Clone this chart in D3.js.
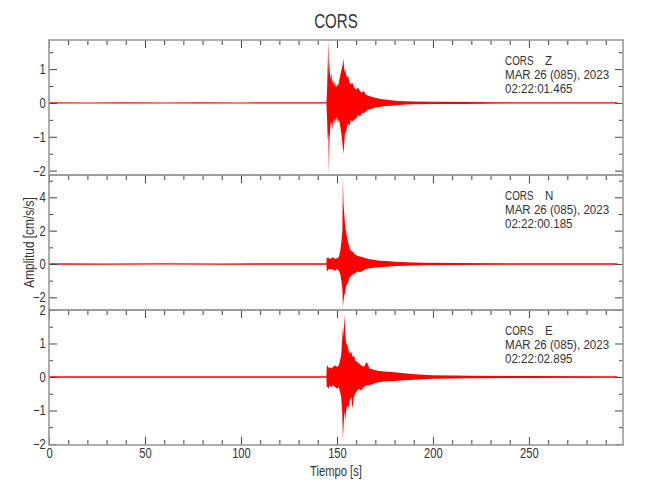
<!DOCTYPE html>
<html>
<head>
<meta charset="utf-8">
<script src="https://cdn.jsdelivr.net/npm/d3@7/dist/d3.min.js"></script>
<style>
  html, body { margin: 0; padding: 0; background: #fff; }
  svg text { font-family: "Liberation Sans", "DejaVu Sans", sans-serif; fill: #333; }
</style>
</head>
<body>
<svg id="chart" width="650" height="500"></svg>
<script>
// ---------------- data (envelopes) ----------------
const title = "CORS";
const xLabel = "Tiempo [s]";
const yLabel = "Amplitud [cm/s/s]";
const xDomain = [0, 299];
const xMajorTicks = [0, 50, 100, 150, 200, 250];
const xMinorTicks = [10, 20, 30, 40, 60, 70, 80, 90, 110, 120, 130, 140, 160, 170, 180, 190, 210, 220, 230, 240, 260, 270, 280, 290];

const stations = ["CORS", "CORS", "CORS"];
const components = ["Z", "N", "E"];
const dateLine = "MAR 26 (085), 2023";
const startTimes = ["02:22:01.465", "02:22:00.185", "02:22:02.895"];

const yDomainZ = [-2.13, 1.86];
const yDomainN = [-2.76, 5.34];
const yDomainE = [-2.03, 2.0];
const yMajorZ = [-2, -1, 0, 1];
const yMinorZ = [-1.5, -0.5, 0.5, 1.5];
const yMajorN = [-2, 0, 2, 4];
const yMinorN = [-1, 1, 3, 5];
const yMajorE = [-2, -1, 0, 1, 2];
const yMinorE = [-1.5, -0.5, 0.5, 1.5];

// time (s), upper envelope, lower envelope
const timeZ = [0, 20, 40, 60, 80, 100, 120, 140, 144.5, 144.8, 145.2, 145.5, 145.8, 146.1, 146.5, 147, 147.5, 148, 148.5, 149, 149.5, 150, 150.5, 151, 151.5, 152, 152.5, 153, 153.4, 153.8, 154.2, 154.7, 155.2, 155.8, 156.5, 157.2, 158, 159, 160, 161, 162, 163, 164, 165, 166, 168, 170, 172, 175, 178, 182, 186, 190, 200, 215, 240, 270, 296];
const upperZ = [0.02, 0.015, 0.02, 0.015, 0.02, 0.015, 0.02, 0.02, 0.02, 0.3, 1.2, 1.84, 0.8, 1.25, 0.7, 0.9, 0.6, 0.7, 0.5, 0.65, 0.45, 0.55, 0.5, 0.6, 0.75, 0.9, 1.0, 1.15, 1.32, 0.9, 1.05, 0.85, 0.75, 0.8, 0.6, 0.55, 0.6, 0.45, 0.4, 0.45, 0.35, 0.3, 0.35, 0.25, 0.22, 0.18, 0.15, 0.12, 0.1, 0.08, 0.06, 0.05, 0.04, 0.035, 0.03, 0.02, 0.02, 0.02];
const lowerZ = [-0.02, -0.02, -0.015, -0.02, -0.02, -0.015, -0.02, -0.02, -0.02, -0.4, -1.1, -0.9, -2.1, -1.1, -0.7, -0.55, -0.8, -0.5, -0.6, -0.45, -0.55, -0.4, -0.6, -0.5, -0.6, -0.8, -1.0, -1.3, -1.5, -1.2, -0.85, -0.9, -0.7, -0.6, -0.7, -0.5, -0.55, -0.5, -0.45, -0.35, -0.4, -0.3, -0.3, -0.25, -0.2, -0.18, -0.13, -0.12, -0.09, -0.08, -0.06, -0.05, -0.04, -0.035, -0.03, -0.02, -0.02, -0.02];

const timeN = [0, 30, 60, 90, 120, 144.5, 144.7, 145, 145.5, 146, 147, 148, 149, 150, 151, 151.7, 152.3, 152.8, 153.1, 153.4, 153.8, 154.3, 154.8, 155.4, 156, 156.7, 157.5, 158.5, 159.5, 160.5, 162, 163.5, 165, 167, 169, 172, 176, 180, 186, 195, 210, 240, 296];
const upperN = [0.04, 0.035, 0.04, 0.035, 0.04, 0.04, 0.45, 0.35, 0.4, 0.3, 0.35, 0.4, 0.3, 0.35, 0.4, 0.8, 1.3, 2.0, 5.2, 3.6, 3.0, 2.2, 1.9, 1.5, 1.2, 0.9, 0.8, 0.7, 0.55, 0.5, 0.45, 0.4, 0.35, 0.28, 0.25, 0.2, 0.18, 0.13, 0.1, 0.08, 0.06, 0.05, 0.04];
const lowerN = [-0.04, -0.04, -0.035, -0.04, -0.04, -0.04, -0.4, -0.45, -0.3, -0.35, -0.3, -0.35, -0.4, -0.3, -0.4, -0.6, -1.0, -1.5, -2.6, -2.2, -1.9, -1.7, -1.3, -1.2, -1.0, -0.8, -0.7, -0.6, -0.55, -0.45, -0.5, -0.4, -0.3, -0.25, -0.22, -0.2, -0.17, -0.12, -0.1, -0.07, -0.06, -0.05, -0.04];

const timeE = [0, 30, 60, 90, 120, 144.5, 144.7, 145.2, 145.7, 146.3, 147, 148, 149, 150, 151, 151.6, 152.2, 152.7, 153.1, 153.5, 153.9, 154.3, 154.8, 155.4, 156, 156.7, 157.4, 158.1, 158.8, 159.5, 160.5, 161.5, 162.5, 164, 165.5, 167, 169, 172, 176, 180, 185, 190, 200, 220, 250, 296];
const upperE = [0.025, 0.02, 0.025, 0.02, 0.025, 0.025, 0.3, 0.35, 0.25, 0.3, 0.25, 0.3, 0.35, 0.3, 0.35, 0.5, 0.65, 1.1, 1.5, 1.2, 1.88, 1.3, 1.0, 0.95, 0.8, 0.7, 0.75, 0.6, 0.65, 0.5, 0.45, 0.4, 0.35, 0.3, 0.45, 0.25, 0.22, 0.18, 0.16, 0.14, 0.11, 0.08, 0.05, 0.035, 0.03, 0.025];
const lowerE = [-0.025, -0.025, -0.02, -0.025, -0.02, -0.025, -0.3, -0.3, -0.35, -0.25, -0.3, -0.25, -0.3, -0.35, -0.3, -0.45, -0.6, -1.0, -1.85, -1.4, -1.0, -1.3, -1.0, -0.85, -0.9, -0.7, -0.6, -0.95, -0.6, -0.5, -0.4, -0.35, -0.4, -0.3, -0.25, -0.25, -0.2, -0.15, -0.13, -0.12, -0.1, -0.08, -0.05, -0.035, -0.03, -0.025];

// ---------------- layout ----------------
const left = 49, right = 623;
const panelTops = [40, 175, 310];
const panelH = 135;

const panels = [
  { time: timeZ, up: upperZ, lo: lowerZ, dom: yDomainZ, maj: yMajorZ, min: yMinorZ },
  { time: timeN, up: upperN, lo: lowerN, dom: yDomainN, maj: yMajorN, min: yMinorN },
  { time: timeE, up: upperE, lo: lowerE, dom: yDomainE, maj: yMajorE, min: yMinorE }
];

const svg = d3.select("#chart");
const x = d3.scaleLinear().domain(xDomain).range([left, right]);
const frameColor = "#9a9a9a";
const tickColor = "#444";
const fmt = d3.format(".0f");

function styleAxis(g) {
  g.select(".domain").remove();
  g.selectAll(".tick line").attr("stroke", tickColor).attr("stroke-width", 1);
  g.selectAll(".tick text").attr("font-size", 14).attr("fill", "#333")
    .attr("transform", "scale(0.8,1)");
}

function narrowText(parent, tx, ty, sx, opts) {
  const g = parent.append("g").attr("transform", `translate(${tx},${ty}) ${opts.rotate ? "rotate(" + opts.rotate + ")" : ""} scale(${sx},1)`);
  return g.append("text").attr("x", 0).attr("y", 0).attr("font-size", opts.size)
    .attr("text-anchor", opts.anchor || "start").style("white-space", "pre");
}

panels.forEach((p, i) => {
  const top = panelTops[i], bottom = top + panelH;
  const y = d3.scaleLinear().domain(p.dom).range([bottom, top]);
  const g = svg.append("g");

  const pts = p.time.map((t, k) => ({ t, u: p.up[k], l: p.lo[k] }));
  const clipId = "clip" + i;
  svg.append("clipPath").attr("id", clipId).append("rect")
    .attr("x", left).attr("y", top).attr("width", right - left).attr("height", panelH);

  const area = d3.area().x(d => x(d.t)).y0(d => y(d.l)).y1(d => y(d.u));
  g.append("path").datum(pts).attr("clip-path", `url(#${clipId})`)
    .attr("d", area).attr("fill", "#ff0000");

  // y axes left
  g.append("g").attr("transform", `translate(${left},0)`)
    .call(d3.axisLeft(y).tickValues(p.maj).tickSize(-8).tickPadding(4).tickFormat(fmt)).call(styleAxis);
  g.append("g").attr("transform", `translate(${left},0)`)
    .call(d3.axisLeft(y).tickValues(p.min).tickSize(-4).tickFormat("")).call(styleAxis);
  // y axes right
  g.append("g").attr("transform", `translate(${right},0)`)
    .call(d3.axisRight(y).tickValues(p.maj).tickSize(-8).tickFormat("")).call(styleAxis);
  g.append("g").attr("transform", `translate(${right},0)`)
    .call(d3.axisRight(y).tickValues(p.min).tickSize(-4).tickFormat("")).call(styleAxis);
  // x ticks on top edge
  g.append("g").attr("transform", `translate(0,${top})`)
    .call(d3.axisTop(x).tickValues(xMajorTicks).tickSize(-8).tickFormat("")).call(styleAxis);
  g.append("g").attr("transform", `translate(0,${top})`)
    .call(d3.axisTop(x).tickValues(xMinorTicks).tickSize(-5).tickFormat("")).call(styleAxis);
  if (i === panels.length - 1) {
    g.append("g").attr("transform", `translate(0,${bottom})`)
      .call(d3.axisBottom(x).tickValues(xMajorTicks).tickSize(-8).tickPadding(3).tickFormat(fmt)).call(styleAxis);
    g.append("g").attr("transform", `translate(0,${bottom})`)
      .call(d3.axisBottom(x).tickValues(xMinorTicks).tickSize(-5).tickFormat("")).call(styleAxis);
  }

  // frame
  g.append("rect").attr("x", left).attr("y", top).attr("width", right - left).attr("height", panelH)
    .attr("fill", "none").attr("stroke", frameColor).attr("stroke-width", 1.6);

  // annotation
  narrowText(g, 505, top + 25, 0.76, { size: 13 }).text(stations[i]);
  narrowText(g, 545, top + 25, 0.89, { size: 13 }).text(components[i]);
  narrowText(g, 505, top + 39, 0.89, { size: 13 }).text(dateLine);
  narrowText(g, 505, top + 53, 0.89, { size: 13 }).text(startTimes[i]);
});

// titles
narrowText(svg, 336, 28, 0.72, { size: 21, anchor: "middle" }).text(title);
narrowText(svg, 336, 476, 0.8, { size: 14, anchor: "middle" }).text(xLabel);
narrowText(svg, 34, 242.5, 0.85, { size: 14, anchor: "middle", rotate: -90 }).text(yLabel);
</script>
</body>
</html>
